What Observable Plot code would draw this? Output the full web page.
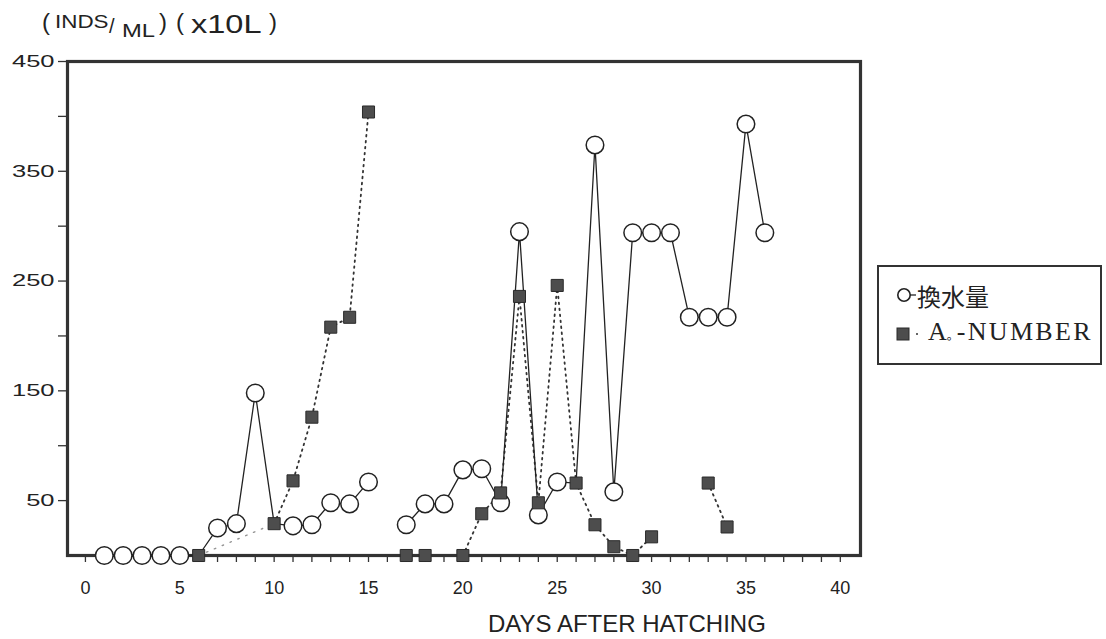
<!DOCTYPE html>
<html>
<head>
<meta charset="utf-8">
<script src="https://cdn.jsdelivr.net/npm/d3@7"></script>
<script src="https://cdn.jsdelivr.net/npm/@observablehq/plot@0.6"></script>
<style>
  body { margin: 0; background: #fff; }
  #wrap { position: relative; width: 1106px; height: 639px; overflow: hidden; background: #fff;
          font-family: "Liberation Sans", Arial, sans-serif; color: #222; }
  #chart { position: absolute; left: 0; top: 0; }
  .t { position: absolute; white-space: nowrap; line-height: 1; transform-origin: 0 0; }
  #legend { position: absolute; left: 877px; top: 265px; width: 221px; height: 96px;
            border: 2px solid #333; box-sizing: content-box; overflow: hidden; }
</style>
</head>
<body>
<div id="wrap">
  <div id="chart"></div>
  <!-- y unit title -->
  <span class="t" style="left:42px;top:10px;font-size:24px;">(</span>
  <span class="t" style="left:55px;top:12.3px;font-size:19px;transform:scaleX(1.18);">INDS</span>
  <span class="t" style="left:109px;top:16px;font-size:20px;">/</span>
  <span class="t" style="left:122px;top:21.3px;font-size:19px;transform:scaleX(1.25);">ML</span>
  <span class="t" style="left:159px;top:10px;font-size:24px;">)</span>
  <span class="t" style="left:176px;top:10px;font-size:24px;">(</span>
  <span class="t" style="left:191px;top:11.8px;font-size:25px;transform:scaleX(1.3);">x10L</span>
  <span class="t" style="left:269px;top:10px;font-size:24px;">)</span>
  <!-- x title -->
  <span class="t" id="xtitle" style="left:488px;top:612px;font-size:24px;"></span>
  <!-- legend -->
  <div id="legend"></div>
</div>
<script>
// ---- data ----
const exchangeDays   = [1,2,3,4,5,6,7,8,9,10,11,12,13,14,15,16,17,18,19,20,21,22,23,24,25,26,27,28,29,30,31,32,33,34,35,36];
const exchangeValues = [0,0,0,0,0,0,25,29,148,29,27,28,48,47,67,null,28,47,47,78,79,48,295,37,67,66,374,58,294,294,294,217,217,217,393,294];
const hiddenMarkerDays = [6,10,26];   // circles covered by squares

const aDays   = [6,10,11,12,13,14,15,16,17,18,19,20,21,22,23,24,25,26,27,28,29,30,31,33,34];
const aValues = [0,29,68,126,208,217,404,null,0,0,null,0,38,57,236,48,246,66,28,8,0,17,null,66,26];

const xTicks = d3.range(0, 41, 1);
const xTickLabels = [0,5,10,15,20,25,30,35,40];
const yTicks = [50,100,150,200,250,300,350,400,450];
const yTickLabels = [50,150,250,350,450];

const seriesNames = ["換水量", "A。-NUMBER"];
const xTitle = "DAYS AFTER HATCHING";

// ---- build ----
const exchange = exchangeDays.map((d, i) => ({day: d, value: exchangeValues[i]}));
const aNum = aDays.map((d, i) => ({day: d, value: aValues[i]}));

const plot = Plot.plot({
  width: 1106, height: 639,
  marginLeft: 67, marginRight: 246, marginTop: 61, marginBottom: 84,
  x: {domain: [-0.95, 41.07]},
  y: {domain: [0, 450]},
  style: {fontFamily: "Liberation Sans, Arial, sans-serif", fontSize: "18px", color: "#222", background: "transparent", overflow: "visible"},
  marks: [
    Plot.axisX({ticks: xTicks, tickFormat: d => xTickLabels.includes(d) ? String(d) : "", tickSize: 7, tickPadding: 19,
                stroke: "#333", strokeWidth: 1.3, fontSize: 18, label: null}),
    Plot.axisY({ticks: yTicks, tickFormat: d => yTickLabels.includes(d) ? String(d) : "", tickSize: 9, tickPadding: 4,
                stroke: "#333", strokeWidth: 1.3, fontSize: 17, label: null}),
    Plot.frame({stroke: "#333", strokeWidth: 3.2}),
    Plot.line(aNum.filter(d => d.day <= 10), {x: "day", y: "value", stroke: "#666", strokeWidth: 1.4, strokeDasharray: "1.5,7", strokeOpacity: 0.7}),
    Plot.line(aNum.filter(d => d.day >= 10), {x: "day", y: "value", stroke: "#333", strokeWidth: 1.8, strokeDasharray: "1.6,4.4"}),
    Plot.line(exchange, {x: "day", y: "value", stroke: "#222", strokeWidth: 1.3}),
    Plot.dot(exchange.filter(d => d.value != null && !hiddenMarkerDays.includes(d.day)),
             {x: "day", y: "value", r: 8.8, fill: "white", stroke: "#222", strokeWidth: 1.5}),
    Plot.dot(aNum.filter(d => d.value != null),
             {x: "day", y: "value", symbol: "square", r: 6.8, fill: "#4d4d4d", stroke: "#2a2a2a", strokeWidth: 1})
  ]
});
document.getElementById("chart").appendChild(plot);

// widen y tick labels (scan font is horizontally stretched)
plot.querySelectorAll('g[aria-label="y-axis tick label"] text').forEach(t => {
  const tr = t.getAttribute("transform");
  if (tr) t.setAttribute("transform", tr + " scale(1.5,1)");
  else {
    const x = t.getAttribute("x") || 0, y = t.getAttribute("y") || 0;
    t.removeAttribute("x"); t.removeAttribute("y");
    t.setAttribute("transform", `translate(${x},${y}) scale(1.5,1)`);
  }
});

document.getElementById("xtitle").textContent = xTitle;

// legend
const [aPart, circPart, restPart] = [seriesNames[1].slice(0, 1), seriesNames[1].slice(1, 2), seriesNames[1].slice(2)];
const lg = document.getElementById("legend");
lg.innerHTML = `
  <svg style="position:absolute;left:0;top:0" width="221" height="96">
    <circle cx="25" cy="28" r="6.2" fill="white" stroke="#222" stroke-width="1.6"></circle>
    <line x1="31" y1="28" x2="37" y2="28" stroke="#222" stroke-width="1.3"></line>
    <rect x="18" y="61" width="12" height="12" fill="#4d4d4d" stroke="#2a2a2a"></rect>
    <circle cx="38" cy="67" r="1" fill="#333"></circle>
  </svg>
  <span class="t" style="left:38px;top:17px;font-size:24px;font-family:'Noto Sans CJK JP',sans-serif;">${seriesNames[0]}</span>
  <span class="t" style="left:49px;top:52px;font-size:26px;font-family:'Liberation Serif',serif;">${aPart}<span style="font-size:12px;font-family:'Noto Sans CJK JP',sans-serif;letter-spacing:-2px;">${circPart}</span><span style="letter-spacing:2.3px;">${restPart}</span></span>
`;
</script>
</body>
</html>
